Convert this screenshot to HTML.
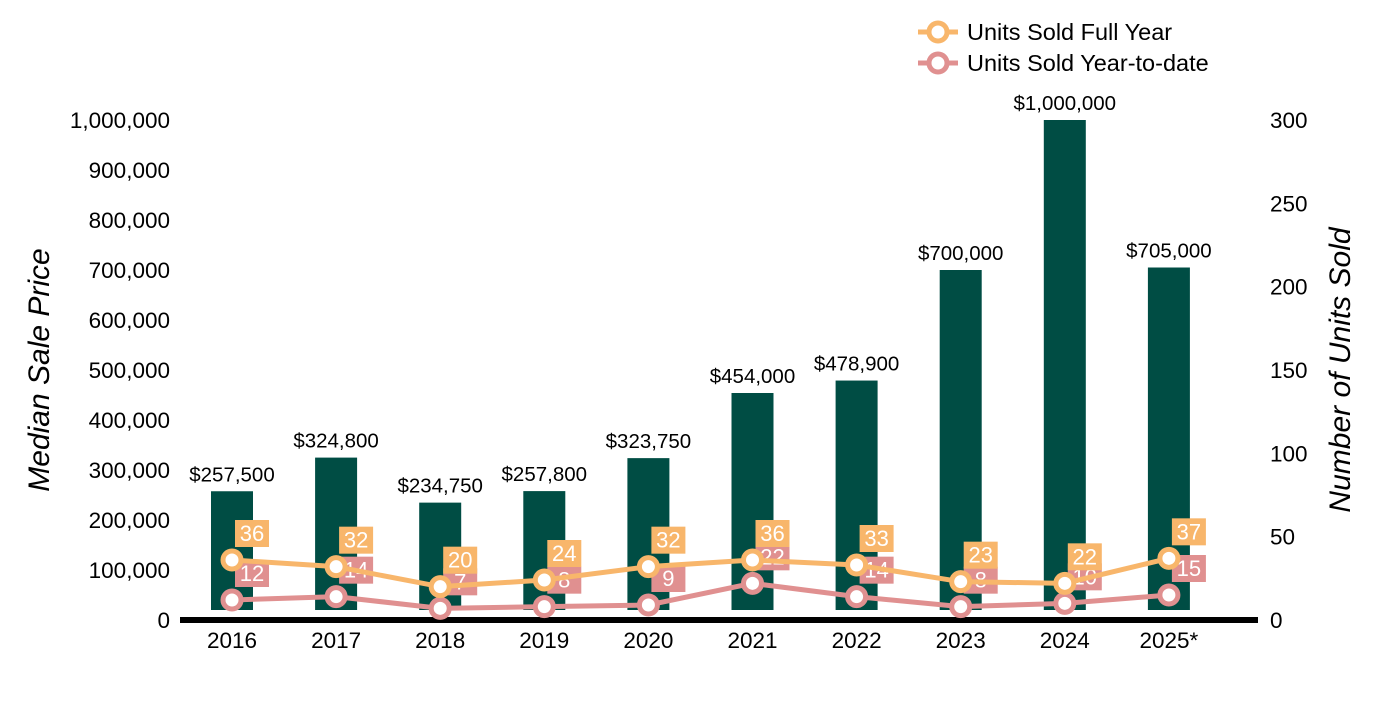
<!DOCTYPE html>
<html><head><meta charset="utf-8"><style>
body{margin:0;background:#fff;}
svg text{font-family:"Liberation Sans",Arial,sans-serif;}
</style></head><body>
<svg id="chart" width="1400" height="700" xmlns="http://www.w3.org/2000/svg">
<g id="g"></g>
</svg>
<script>
const categories=["2016","2017","2018","2019","2020","2021","2022","2023","2024","2025*"];
const prices=[257500,324800,234750,257800,323750,454000,478900,700000,1000000,705000];
const priceLabels=["$257,500","$324,800","$234,750","$257,800","$323,750","$454,000","$478,900","$700,000","$1,000,000","$705,000"];
const unitsFull=[36,32,20,24,32,36,33,23,22,37];
const unitsYtd=[12,14,7,8,9,22,14,8,10,15];
const leftTicks=[0,100000,200000,300000,400000,500000,600000,700000,800000,900000,1000000];
const rightTicks=[0,50,100,150,200,250,300];

const NS="http://www.w3.org/2000/svg";
const g=document.getElementById('g');
function el(t,a,txt){const e=document.createElementNS(NS,t);for(const k in a)e.setAttribute(k,a[k]);if(txt!==undefined)e.textContent=txt;g.appendChild(e);return e;}
const x=i=>232+i*104.1;
const yL=v=>620-v/1000000*500;
const yR=v=>620-v/300*500;
const fmt=v=>v.toLocaleString('en-US');

leftTicks.forEach(t=>{const e=el('text',{x:170,y:yL(t)+8,'text-anchor':'end','font-size':22.5,fill:'#000'},fmt(t));

});
rightTicks.forEach(t=>{const e=el('text',{x:1270,y:yR(t)+8,'font-size':22.5,fill:'#000'},String(t));

});

categories.forEach((c,i)=>{
 const b=el('rect',{x:x(i)-21,y:yL(prices[i]),width:42,height:610-yL(prices[i]),fill:'#004d44'});
 
 
 const t=el('text',{x:x(i),y:yL(prices[i])-10,'text-anchor':'middle','font-size':20.5,fill:'#000'},priceLabels[i]);
 
 
 const c2=el('text',{x:x(i),y:648,'text-anchor':'middle','font-size':22.5,fill:'#000'},c);
 
 
});
const ax=el('rect',{x:180,y:617,width:1078,height:6,fill:'#000'});



function series(vals,color,name){
 const pts=vals.map((v,i)=>x(i)+','+yR(v)).join(' ');
 const l=el('polyline',{points:pts,fill:'none',stroke:color,'stroke-width':5});
 
 
 vals.forEach((v,i)=>{const c=el('circle',{cx:x(i),cy:yR(v),r:9,fill:'#fff',stroke:color,'stroke-width':5});
 
 });
}
function labels(vals,color,name){
 vals.forEach((v,i)=>{const cx=x(i)+20,cy=yR(v)-27;
 const r=el('rect',{x:cx-17,y:cy-13,width:34,height:27,fill:color});
 
 
 const t=el('text',{x:cx,y:cy+8,'text-anchor':'middle','font-size':22,fill:'#fff'},String(v));
 
 });
}
series(unitsYtd,'#e09090','ytd');
labels(unitsYtd,'#e09090','ytd');
series(unitsFull,'#f8b66b','full-year');
labels(unitsFull,'#f8b66b','full-year');

[['Units Sold Full Year','#f8b66b',32,'legend-full-year'],['Units Sold Year-to-date','#e09090',63,'legend-ytd']].forEach(d=>{
 const l=el('line',{x1:918,y1:d[2],x2:958,y2:d[2],stroke:d[1],'stroke-width':5});
 
 
 const c=el('circle',{cx:938,cy:d[2],r:9,fill:'#fff',stroke:d[1],'stroke-width':5});
 
 
 const t=el('text',{x:967,y:d[2]+8,'font-size':23.5,fill:'#000'},d[0]);
 
 
});
const yt=el('text',{x:0,y:0,transform:'translate(49,370) rotate(-90)','text-anchor':'middle','font-size':30,'font-style':'italic',fill:'#000'},'Median Sale Price');


const yt2=el('text',{x:0,y:0,transform:'translate(1350,370) rotate(-90)','text-anchor':'middle','font-size':30,'font-style':'italic',fill:'#000'},'Number of Units Sold');


</script>
</body></html>
